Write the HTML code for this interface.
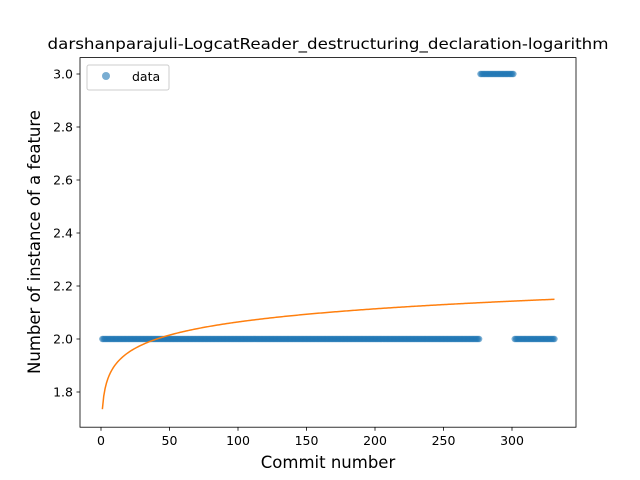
<!DOCTYPE html>
<html><head><meta charset="utf-8"><style>body{margin:0;background:#fff}svg{font-family:"DejaVu Sans","Liberation Sans",sans-serif}</style></head>
<body>
<svg id="c" width="640" height="480" style="position:absolute;left:0;top:0"></svg>
<script>
const segStarts=[1,277,302];
const segEnds=[276,301,331];
const segValues=[2,3,2];
const fitA=1.735, fitB=0.0715;
const xTicks=[0,50,100,150,200,250,300];
const yTicks=[1.8,2.0,2.2,2.4,2.6,2.8,3.0];
const NS="http://www.w3.org/2000/svg";
const svg=document.getElementById('c');
const L=80,R=576,T=57.6,B=427.2;
const X=v=>101+(v)*(512-101)/300;
const Y=v=>392-(v-1.8)*(392-74)/1.2;
function mk(t,a,p){const e=document.createElementNS(NS,t);for(const k in a)e.setAttribute(k,a[k]);(p||svg).appendChild(e);return e;}
const g=mk('g',{});


for(let s=0;s<segStarts.length;s++){for(let i=segStarts[s];i<=segEnds[s];i++){const c=mk('circle',{cx:X(i),cy:Y(segValues[s]),r:3.2,fill:'#1f77b4','fill-opacity':0.6},g);}}
let d='';for(let i=1;i<=331;i++){d+=(i==1?'M':'L')+X(i)+','+Y(fitA+fitB*Math.log(i));}
const fl=mk('path',{d:d,fill:'none',stroke:'#ff7f0e','stroke-width':1.5});


const ax=mk('rect',{x:L,y:T,width:R-L,height:B-T,fill:'none',stroke:'#000','stroke-width':0.8});


xTicks.forEach(v=>{mk('line',{x1:X(v),x2:X(v),y1:B,y2:B+3.5,stroke:'#000','stroke-width':0.8});const t=mk('text',{x:X(v),y:B+18,'text-anchor':'middle','font-size':12.5});t.textContent=v;});
yTicks.forEach(v=>{mk('line',{x1:L-3.5,x2:L,y1:Y(v),y2:Y(v),stroke:'#000','stroke-width':0.8});const t=mk('text',{x:L-7,y:Y(v)+4.5,'text-anchor':'end','font-size':12.5});t.textContent=v.toFixed(1);});
</script>
<svg style="position:absolute;left:0;top:0" width="640" height="480">
<text x="328" y="49" text-anchor="middle" font-size="15" textLength="561" lengthAdjust="spacingAndGlyphs">darshanparajuli-LogcatReader_destructuring_declaration-logarithm</text>
<text x="328" y="468" text-anchor="middle" font-size="16.5">Commit number</text>
<text transform="translate(40,242) rotate(-90)" text-anchor="middle" font-size="16.5">Number of instance of a feature</text>
<g>
<rect x="87" y="65" width="82" height="25" rx="2" fill="#fff" stroke="#ccc"/>
<circle cx="106" cy="76" r="4" fill="#1f77b4" fill-opacity="0.6"/>
<text x="132" y="81" font-size="12.5">data</text>
</g>
</svg>
</body></html>
